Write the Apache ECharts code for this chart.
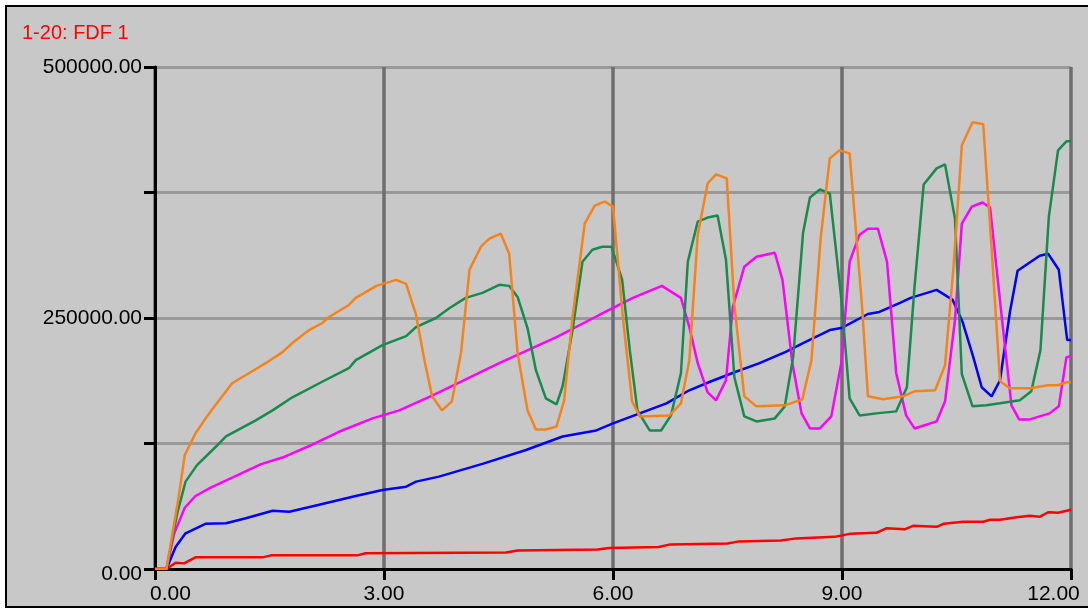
<!DOCTYPE html>
<html><head><meta charset="utf-8">
<script src="https://cdn.jsdelivr.net/npm/echarts@6/dist/echarts.min.js"></script>
<style>
html,body{margin:0;padding:0;background:#fff;width:1088px;height:608px;overflow:hidden;}
#frame{position:absolute;left:5px;top:5px;width:1100px;height:599px;border:2px solid #000;background:#c8c8c8;}
#chart{position:absolute;left:0;top:0;width:1088px;height:608px;}
</style></head>
<body><div id="frame"></div><div id="chart"></div>
<script>
const title = '1-20: FDF 1';
const xTicks = [0, 3, 6, 9, 12];
const yLabelValues = [0, 250000, 500000];

const redData = [[0,0],[0.15,0],[0.27,6300],[0.38,5600],[0.53,11600],[1.41,11600],[1.52,13600],[2.65,13600],[2.76,15600],[4.6,16500],[4.75,18500],[5.8,19500],[5.95,21000],[6.6,22000],[6.75,24500],[7.5,25500],[7.65,27500],[8.2,28500],[8.4,30500],[8.9,32000],[9.1,35000],[9.45,36000],[9.58,40500],[9.82,39500],[9.93,43000],[10.24,42000],[10.33,45000],[10.59,47000],[10.85,47000],[10.94,49000],[11.07,49000],[11.29,51500],[11.46,53000],[11.59,52000],[11.7,56500],[11.83,56000],[12,59000]];

const blueData = [[0,0],[0.15,0],[0.27,22000],[0.4,35500],[0.66,45000],[0.93,45500],[1.19,50500],[1.54,58000],[1.76,57000],[2.15,64000],[2.63,72700],[2.98,78700],[3.29,82000],[3.42,87000],[3.72,92000],[4.3,105000],[4.86,118500],[5.34,132000],[5.78,138000],[6.0,145000],[6.35,155000],[6.7,165000],[7.0,178000],[7.27,186500],[7.61,196500],[7.92,205000],[8.27,216500],[8.49,225000],[8.84,238000],[8.99,240000],[9.34,254000],[9.49,256000],[9.76,265000],[9.9,270000],[10.24,278000],[10.45,268000],[10.58,246000],[10.72,211000],[10.83,181000],[10.96,172000],[11.07,188000],[11.2,256000],[11.3,297000],[11.59,312000],[11.7,314000],[11.84,298000],[11.95,228000],[12,228000]];

const magentaData = [[0,0],[0.15,0],[0.25,35000],[0.39,61000],[0.53,72700],[0.73,81000],[1.04,92000],[1.39,104500],[1.67,111000],[2.02,122500],[2.41,136700],[2.85,150000],[3.2,158000],[3.55,170000],[3.72,176000],[4.51,205000],[5.26,231000],[5.82,253000],[6.26,270000],[6.64,282000],[6.89,270000],[7.0,241000],[7.11,205000],[7.24,176000],[7.35,168000],[7.48,188000],[7.57,261000],[7.72,301000],[7.88,311000],[8.12,315000],[8.22,288000],[8.35,205000],[8.47,155000],[8.58,140000],[8.71,140000],[8.86,152000],[8.99,205000],[9.1,306000],[9.23,333000],[9.34,339000],[9.47,339000],[9.59,306000],[9.71,195000],[9.84,153000],[9.95,140000],[10.24,147000],[10.35,167000],[10.48,248000],[10.57,344000],[10.7,361000],[10.84,365000],[10.94,360000],[11.09,253000],[11.22,163000],[11.32,149000],[11.46,149000],[11.72,155000],[11.84,162000],[11.94,211000],[12,212000]];

const greenData = [[0,0],[0.15,0],[0.29,55000],[0.4,87000],[0.55,103500],[0.8,122000],[0.93,132000],[1.32,148000],[1.54,158000],[1.8,171000],[2.19,186500],[2.54,200000],[2.63,208000],[2.98,223000],[3.29,232000],[3.42,241000],[3.68,250000],[3.86,260000],[4.07,270000],[4.29,275000],[4.51,283000],[4.64,282000],[4.75,271000],[4.88,240000],[4.99,198000],[5.12,170000],[5.26,164000],[5.34,182000],[5.47,238000],[5.6,306000],[5.73,318000],[5.86,321000],[5.98,321000],[6.12,288000],[6.22,218000],[6.32,158000],[6.48,138000],[6.63,138000],[6.76,153000],[6.89,195000],[6.98,306000],[7.11,346000],[7.24,350000],[7.37,352000],[7.48,308000],[7.59,191000],[7.72,152000],[7.88,147000],[8.12,150000],[8.25,162000],[8.36,211000],[8.49,335000],[8.58,370000],[8.71,378000],[8.84,374000],[8.99,270000],[9.1,170000],[9.23,153000],[9.45,155000],[9.71,157000],[9.85,181000],[9.95,281000],[10.07,383000],[10.24,399000],[10.35,403000],[10.48,349000],[10.57,194000],[10.71,162000],[10.89,163000],[11.07,165000],[11.33,168000],[11.48,177000],[11.6,218000],[11.71,351000],[11.83,417000],[11.94,426000],[12,426000]];

const orangeData = [[0,0],[0.15,0],[0.31,72000],[0.39,113500],[0.53,135000],[0.69,153000],[0.84,168000],[1.01,185000],[1.23,195000],[1.45,205000],[1.67,216000],[1.8,225000],[2.02,238000],[2.19,245000],[2.28,251000],[2.54,263000],[2.63,270000],[2.9,282000],[3.16,288000],[3.29,284000],[3.42,253000],[3.53,208000],[3.63,172000],[3.76,158000],[3.89,167000],[4.01,216000],[4.12,298000],[4.27,321000],[4.38,329000],[4.53,334000],[4.64,314000],[4.75,215000],[4.88,158000],[4.99,139000],[5.12,139000],[5.26,142000],[5.36,168000],[5.47,251000],[5.63,344000],[5.76,362000],[5.89,366000],[6.0,361000],[6.13,250000],[6.25,167000],[6.35,152000],[6.74,153000],[6.89,165000],[7.0,208000],[7.11,333000],[7.24,384000],[7.35,393000],[7.49,389000],[7.59,263000],[7.72,172000],[7.88,162000],[8.25,163000],[8.48,169000],[8.6,208000],[8.72,329000],[8.84,409000],[8.97,417000],[9.1,414000],[9.26,264000],[9.34,172000],[9.54,169000],[9.8,172000],[9.95,177000],[10.22,178000],[10.35,203000],[10.46,300000],[10.57,422000],[10.71,445000],[10.85,443000],[10.96,319000],[11.07,187000],[11.2,180000],[11.46,180000],[11.7,183000],[11.83,183000],[11.94,186000],[12,186000]];

const seriesDefs = [
  {name:'red', data:redData, color:'#ff0000'},
  {name:'blue', data:blueData, color:'#0000ff'},
  {name:'magenta', data:magentaData, color:'#ff00ff'},
  {name:'green', data:greenData, color:'#168c4c'},
  {name:'orange', data:orangeData, color:'#f5831a'}
];

const font = '"Liberation Sans", Arial, sans-serif';
const chart = echarts.init(document.getElementById('chart'), null, {renderer:'canvas'});
chart.setOption({
  animation:false,
  backgroundColor:'transparent',
  title:{text:title, left:22, top:23, padding:0,
    textStyle:{color:'#ff0000', fontSize:20, fontWeight:'normal', fontFamily:font}},
  grid:{left:155, right:17, top:67, bottom:39, containLabel:false},
  xAxis:{type:'value', min:0, max:12, interval:3,
    axisLine:{show:true, onZero:false, lineStyle:{color:'#000', width:3}},
    axisTick:{show:true, length:11, lineStyle:{color:'#000', width:3}},
    splitLine:{show:true, lineStyle:{color:'#6e6e6e', width:3.5}},
    axisLabel:{margin:15, color:'#000', fontSize:21, fontFamily:font,
      formatter:function(v){ if(v===xTicks[0]) return '{l|'+v.toFixed(2)+'}'; if(v===xTicks[xTicks.length-1]) return '{r|'+v.toFixed(2)+'}'; return v.toFixed(2);},
      rich:{l:{fontSize:21, fontFamily:font, color:'#000', padding:[0,0,0,31]}, r:{fontSize:21, fontFamily:font, color:'#000', padding:[0,35,0,0]}}}
  },
  yAxis:{type:'value', min:0, max:500000, interval:125000,
    axisLine:{show:true, lineStyle:{color:'#000', width:3}},
    axisTick:{show:true, length:11, lineStyle:{color:'#000', width:3}},
    splitLine:{show:true, lineStyle:{color:'#999999', width:3}},
    axisLabel:{margin:13, color:'#000', fontSize:21, fontFamily:font,
      formatter:function(v){ if(yLabelValues.indexOf(v)<0) return ''; if(v===0) return '{z|'+v.toFixed(2)+'}'; return v.toFixed(2);},
      rich:{z:{fontSize:21, fontFamily:font, color:'#000', padding:[10,0,0,0]}}}
  },
  series: seriesDefs.map(function(s){ return {
    name:s.name, type:'line', data:s.data, showSymbol:false, symbol:'none',
    lineStyle:{color:s.color, width:2.5}, itemStyle:{color:s.color}, z:3, silent:true
  };})
});
</script></body></html>
